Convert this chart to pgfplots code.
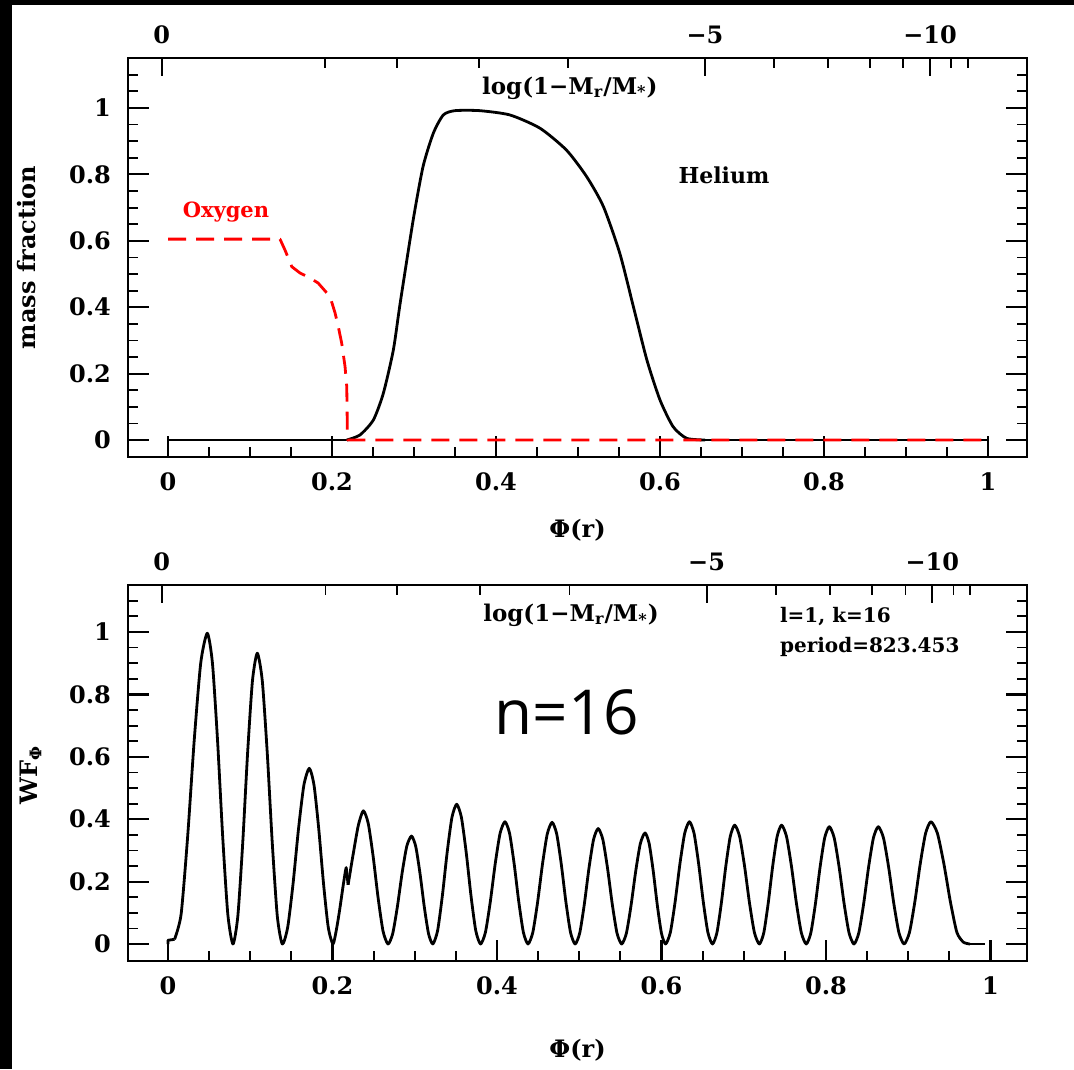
\documentclass[border=0pt]{standalone}
\usepackage{fontspec}
\setmainfont{DejaVu Serif}
\newfontfamily\nfont{Open Sans}
\usepackage{pgfplots}
\pgfplotsset{compat=1.18}
\begin{document}
\begin{tikzpicture}
\fill[white] (0,0) rectangle (537pt,-534.5pt);
\fill[black] (0,0) rectangle (537pt,-2.5pt);
\fill[black] (0,0) rectangle (6pt,-534.5pt);
\pgfplotsset{
  base/.style={
    scale only axis, width=449.5pt, anchor=south west,
    axis line style={line width=1.2pt},
    tick align=inside,
    tick style={black},
    major tick style={line width=1.1pt},
    minor tick style={line width=0.9pt},
    major tick length=10.5pt, minor tick length=5pt,
    /pgf/number format/assume math mode=true,
    ticklabel style={font=\bfseries\fontsize{12}{14}\selectfont},
    label style={font=\bfseries\fontsize{12}{14}\selectfont},
  },
  mainax/.style={base,
    xtick pos=left, ytick pos=both,
    xtick={0,0.2,0.4,0.6,0.8,1},
    minor xtick={0.05,0.1,0.15,0.25,0.3,0.35,0.45,0.5,0.55,0.65,0.7,0.75,0.85,0.9,0.95},
    ytick={0,0.2,0.4,0.6,0.8,1},
    minor ytick={0.05,0.1,0.15,0.25,0.3,0.35,0.45,0.5,0.55,0.65,0.7,0.75,0.85,0.9,0.95,1.05,1.1},
    xticklabel style={yshift=-4.5pt},
    yticklabel style={xshift=-5pt},
    xlabel={\bfseries Φ(r)},
  },
  topax/.style={base,
    hide y axis,
    xtick pos=right, xticklabel pos=right,
    xtick={-0.0077,0.6549,0.9293},
    xticklabels={0,−5,−10},
    minor xtick={0.1915,0.2789,0.3796,0.4882,0.739,0.8052,0.8561,0.8967,0.9549,0.9752},
    major tick length=9pt, minor tick length=5pt,
    xticklabel style={yshift=3.5pt},
  },
  wf/.style={black, line width=1.4pt, line join=round},
}
% ---------------- top panel ----------------
\begin{axis}[mainax, at={(64pt,-228.5pt)}, height=199.5pt,
  xmin=-0.04878, xmax=1.04756, ymin=-0.0512, ymax=1.1506,
  ylabel={mass fraction},
  ylabel style={at={(axis description cs:-0.1123,0.5)}, anchor=center},
  xlabel style={at={(axis description cs:0.5,-0.183)}, anchor=center},
]
\addplot[black, line width=1.1pt] coordinates {(0,0) (0.218,0)};
\addplot[black, line width=1.4pt, smooth, tension=0.4, line join=round] coordinates {
(0.218,0) (0.234,0.015) (0.2504,0.0602) (0.2626,0.1406) (0.2748,0.271) (0.283,0.41)
(0.299,0.6627) (0.311,0.8233) (0.3235,0.9237) (0.3357,0.9789) (0.35,0.992) (0.38,0.992)
(0.417,0.979) (0.4537,0.939) (0.486,0.873) (0.5106,0.793) (0.531,0.703) (0.551,0.562)
(0.5675,0.402) (0.584,0.241) (0.600,0.1205) (0.616,0.04) (0.6325,0.0051) (0.655,0)};
\addplot[black, line width=1.1pt] coordinates {(0.655,0) (1,0)};
\addplot[red, line width=1.4pt, dash pattern=on 9pt off 5pt, line join=round] coordinates {
(0,0.605) (0.1366,0.605) (0.1427,0.572) (0.151,0.522) (0.161,0.503) (0.171,0.491)
(0.183,0.473) (0.1976,0.432) (0.2037,0.383) (0.2077,0.341) (0.2118,0.292) (0.2159,0.221)
(0.218,0.161) (0.2187,0.03) (0.219,0) (1,0)};
\node[font=\bfseries\fontsize{11.5}{13}\selectfont] at (axis cs:0.49,1.06) {log(1−M\textsubscript{r}/M\textsubscript{*})};
\node[red, font=\bfseries\fontsize{10.5}{12}\selectfont] at (axis cs:0.0707,0.687) {Oxygen};
\node[font=\bfseries\fontsize{11}{13}\selectfont] at (axis cs:0.678,0.798) {Helium};
\end{axis}
\begin{axis}[topax, at={(64pt,-228.5pt)}, height=199.5pt,
  xmin=-0.04878, xmax=1.04756, ymin=-0.0512, ymax=1.1506]
\addplot[draw=none] coordinates {(0,0)};
\end{axis}
% ---------------- bottom panel ----------------
\begin{axis}[mainax, at={(64pt,-480.5pt)}, height=188pt,
  xmin=-0.0486, xmax=1.0444, ymin=-0.0545, ymax=1.1506,
  ylabel={WF\textsubscript{Φ}},
  ylabel style={at={(axis description cs:-0.108,0.495)}, anchor=center},
  xlabel style={at={(axis description cs:0.5,-0.237)}, anchor=center},
]
\addplot[wf] coordinates {(0,0) (0,0.012) (0.008,0.015)};
\addplot[wf, smooth, tension=0.4] coordinates {
(0.008,0.015)
(0.01596,0.0951) (0.02392,0.3441) (0.03188,0.6519) (0.03984,0.9009) (0.0478,0.996)
(0.05404,0.9009) (0.06028,0.6519) (0.06652,0.3441) (0.07276,0.0951) (0.079,0)
(0.08492,0.089) (0.09084,0.322) (0.09676,0.610) (0.10268,0.843) (0.1086,0.932)
(0.11468,0.843) (0.12076,0.610) (0.12684,0.322) (0.13292,0.089) (0.139,0)
(0.14556,0.0538) (0.15212,0.1945) (0.15868,0.3685) (0.16524,0.5092) (0.1718,0.563)
(0.17756,0.5092) (0.18332,0.3685) (0.18908,0.1945) (0.19484,0.0538) (0.2006,0)
(0.2047,0.045) (0.2087,0.109) (0.2128,0.184) (0.2159,0.237)};
\addplot[wf] coordinates {(0.2159,0.237) (0.2167,0.245) (0.2190,0.19)};
\addplot[wf, smooth, tension=0.4] coordinates {
(0.2190,0.19) (0.2253,0.29) (0.2314,0.38) (0.2375,0.427)
(0.2435,0.3862) (0.2495,0.2795) (0.2555,0.1475) (0.2615,0.0408) (0.2675,0)
(0.2732,0.0330) (0.2789,0.1195) (0.2846,0.2265) (0.2903,0.3130) (0.296,0.346)
(0.3012,0.3130) (0.3064,0.2265) (0.3116,0.1195) (0.3168,0.0330) (0.322,0)
(0.3278,0.0428) (0.3336,0.1548) (0.3394,0.2932) (0.3452,0.4052) (0.351,0.448)
(0.3568,0.4052) (0.3626,0.2932) (0.3684,0.1548) (0.3742,0.0428) (0.38,0)
(0.38594,0.0374) (0.39188,0.1354) (0.39782,0.2566) (0.40376,0.3546) (0.4097,0.392)
(0.4153,0.3546) (0.4209,0.2566) (0.4265,0.1354) (0.4321,0.0374) (0.4377,0)
(0.44356,0.0372) (0.44942,0.1347) (0.45528,0.2553) (0.46114,0.3528) (0.467,0.39)
(0.4726,0.3528) (0.4782,0.2553) (0.4838,0.1347) (0.4894,0.0372) (0.495,0)
(0.5006,0.0353) (0.5062,0.1278) (0.5118,0.2422) (0.5174,0.3347) (0.523,0.37)
(0.52872,0.3347) (0.53444,0.2422) (0.54016,0.1278) (0.54588,0.0353) (0.5516,0)
(0.55728,0.0340) (0.56296,0.1230) (0.56864,0.2330) (0.57432,0.3220) (0.58,0.356)
(0.585,0.3220) (0.59,0.2330) (0.595,0.1230) (0.6,0.0340) (0.605,0)
(0.6108,0.0374) (0.6166,0.1354) (0.6224,0.2566) (0.6282,0.3546) (0.634,0.392)
(0.6396,0.3546) (0.6452,0.2566) (0.6508,0.1354) (0.6564,0.0374) (0.662,0)
(0.6674,0.0364) (0.6728,0.1316) (0.6782,0.2494) (0.6836,0.3446) (0.689,0.381)
(0.695,0.3446) (0.701,0.2494) (0.707,0.1316) (0.713,0.0364) (0.719,0)
(0.7244,0.0364) (0.7298,0.1316) (0.7352,0.2494) (0.7406,0.3446) (0.746,0.381)
(0.752,0.3446) (0.758,0.2494) (0.764,0.1316) (0.770,0.0364) (0.776,0)
(0.7816,0.0359) (0.7872,0.1299) (0.7928,0.2461) (0.7984,0.3401) (0.804,0.376)
(0.81,0.3401) (0.816,0.2461) (0.822,0.1299) (0.828,0.0359) (0.834,0)
(0.83992,0.0359) (0.84584,0.1299) (0.85176,0.2461) (0.85768,0.3401) (0.8636,0.376)
(0.86988,0.3401) (0.87616,0.2461) (0.88244,0.1299) (0.88872,0.0359) (0.895,0)
(0.90152,0.0374) (0.90804,0.1354) (0.91456,0.2566) (0.92108,0.3546) (0.9276,0.392)
(0.93548,0.3546) (0.94336,0.2566) (0.95124,0.1354) (0.95912,0.0374) (0.967,0.006)
(0.975,0)};
\addplot[wf] coordinates {(0.975,0) (0.993,0)};
\node[font=\bfseries\fontsize{11.5}{13}\selectfont] at (axis cs:0.49,1.054) {log(1−M\textsubscript{r}/M\textsubscript{*})};
\node[anchor=west, font=\bfseries\fontsize{10}{12}\selectfont] at (axis cs:0.7356,1.048) {l=1, k=16};
\node[anchor=west, font=\bfseries\fontsize{10}{12}\selectfont] at (axis cs:0.7356,0.952) {period=823.453};
\node[font=\nfont\fontsize{31}{36}\selectfont] at (axis cs:0.485,0.744) {n=16};
\end{axis}
\begin{axis}[topax, at={(64pt,-480.5pt)}, height=188pt,
  xmin=-0.0486, xmax=1.0444, ymin=-0.0545, ymax=1.1506]
\addplot[draw=none] coordinates {(0,0)};
\end{axis}
\end{tikzpicture}
\end{document}
